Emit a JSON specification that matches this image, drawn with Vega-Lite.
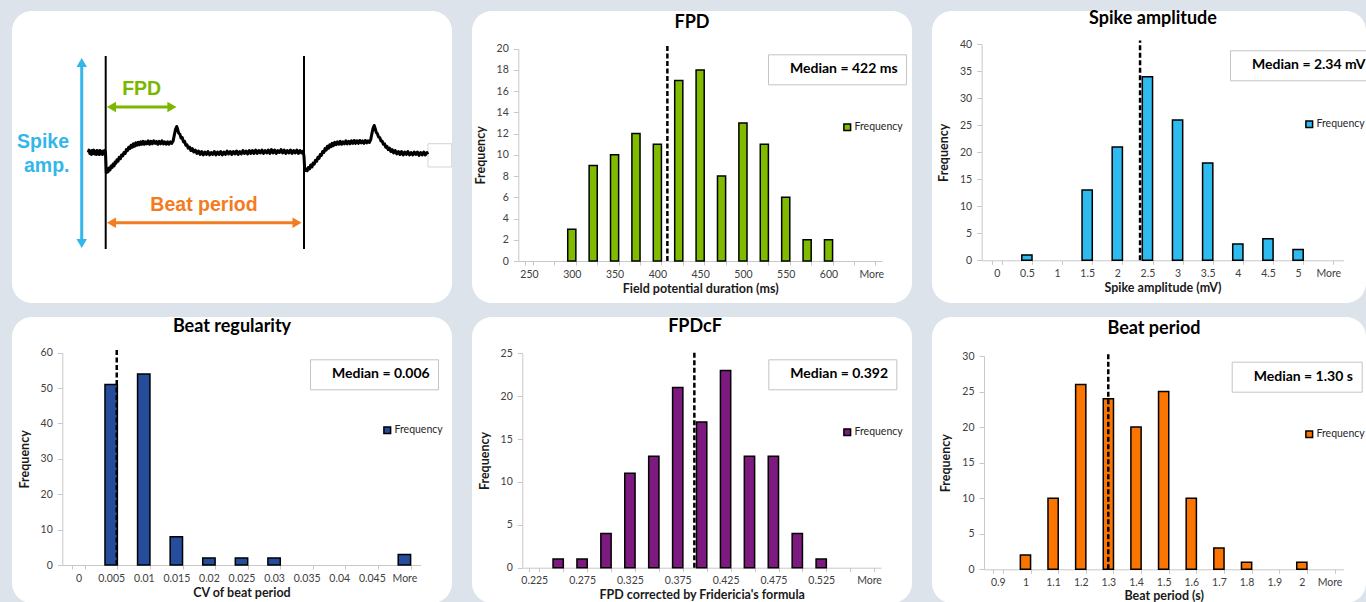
{
  "$schema": "https://vega.github.io/schema/vega-lite/v6.json",
  "background": "#dce3ea",
  "padding": {"left": 12, "top": 10, "right": 0, "bottom": 0},
  "spacing": 14,
  "resolve": {"scale": {"fill": "independent", "strokeDash": "independent", "color": "independent", "shape": "independent"}},
  "config": {
    "font": "Lato",
    "view": {"stroke": null, "fill": "white", "cornerRadius": 20},
    "title": {"font": "Lato", "fontSize": 18, "fontWeight": "bold", "color": "black", "anchor": "middle", "baseline": "alphabetic"},
    "axis": {"labelFont": "Lato", "labelFontSize": 10.5, "labelColor": "#404040", "titleFont": "Lato", "titleFontSize": 12.5, "titleFontWeight": "bold", "titleColor": "#1a1a1a", "domainColor": "#c8c8c8", "tickColor": "#c8c8c8", "grid": false, "minExtent": 0, "maxExtent": 400, "labelOverlap": false},
    "axisX": {"tickSize": 4, "labelPadding": 4, "titlePadding": 3, "labelAngle": 0, "tickBand": "extent"},
    "axisY": {"tickSize": 5, "labelPadding": 5, "titlePadding": 9, "labelOverlap": false},
    "legend": {"orient": "none", "title": null, "padding": 0, "symbolType": "square", "symbolSize": 45, "symbolStrokeColor": "black", "symbolStrokeWidth": 1.5, "labelFont": "Lato", "labelFontSize": 10.5, "labelColor": "#262626", "labelOffset": 2}
  },
  "vconcat": [
    {
      "spacing": 20,
      "resolve": {"scale": {"fill": "independent", "strokeDash": "independent", "color": "independent", "shape": "independent"}},
      "hconcat": [
        {
          "width": 440,
          "height": 292,
          "encoding": {
            "x": {"field": "t", "type": "quantitative", "scale": {"domain": [0, 1000], "range": [93.7, 292], "nice": false, "zero": false}, "axis": null},
            "y": {"field": "v", "type": "quantitative", "scale": {"domain": [-100, 100], "range": [238, 45], "nice": false, "zero": false}, "axis": null}
          },
          "layer": [
            {
              "data": {"values": [{"t": 1625, "t2": 1745, "v": 9.1, "v2": -15}]},
              "mark": {"type": "rect", "fill": "white", "stroke": "#d4d4d4", "strokeWidth": 1, "clip": true},
              "encoding": {"x2": {"field": "t2"}, "y2": {"field": "v2"}}
            },
            {
              "data": {"values": [
                {"t": -88, "v": 0}, {"t": -84, "v": 2.5}, {"t": -80, "v": -1}, {"t": -76, "v": 1.5}, {"t": -72, "v": -2}, {"t": -68, "v": 2}, {"t": -64, "v": -1}, {"t": -60, "v": 2.5}, {"t": -56, "v": -1.5}, {"t": -52, "v": 1}, {"t": -48, "v": -2}, {"t": -44, "v": 2}, {"t": -40, "v": -1.5}, {"t": -36, "v": 1.5}, {"t": -32, "v": -2}, {"t": -28, "v": 2}, {"t": -24, "v": -1.5}, {"t": -20, "v": 1}, {"t": -16, "v": -2}, {"t": -12, "v": 1.5}, {"t": -8, "v": -1}, {"t": -4, "v": 2}, {"t": -1, "v": 0},
                {"t": 0, "v": -5}, {"t": 3, "v": -21}, {"t": 8, "v": -18}, {"t": 12, "v": -20}, {"t": 17, "v": -16}, {"t": 22, "v": -18}, {"t": 27, "v": -14}, {"t": 32, "v": -15.5}, {"t": 37, "v": -12}, {"t": 42, "v": -14}, {"t": 47, "v": -10}, {"t": 52, "v": -11}, {"t": 57, "v": -7.5}, {"t": 62, "v": -9}, {"t": 68, "v": -5}, {"t": 74, "v": -6.5}, {"t": 80, "v": -2.5}, {"t": 86, "v": -3.5}, {"t": 92, "v": 0}, {"t": 98, "v": -1}, {"t": 104, "v": 3}, {"t": 110, "v": 2}, {"t": 116, "v": 5.5}, {"t": 122, "v": 4}, {"t": 128, "v": 7.5}, {"t": 134, "v": 5.5}, {"t": 140, "v": 9}, {"t": 146, "v": 6.5}, {"t": 152, "v": 10}, {"t": 158, "v": 7.5}, {"t": 164, "v": 10.5}, {"t": 170, "v": 8}, {"t": 176, "v": 11}, {"t": 182, "v": 8.5}, {"t": 188, "v": 11.5}, {"t": 194, "v": 8.5}, {"t": 200, "v": 11}, {"t": 207, "v": 9}, {"t": 214, "v": 12}, {"t": 221, "v": 8.5}, {"t": 228, "v": 11.5}, {"t": 235, "v": 9}, {"t": 242, "v": 12}, {"t": 249, "v": 9.5}, {"t": 256, "v": 11.5}, {"t": 263, "v": 8.5}, {"t": 270, "v": 11.5}, {"t": 277, "v": 9}, {"t": 284, "v": 12}, {"t": 291, "v": 9}, {"t": 298, "v": 11}, {"t": 305, "v": 8.5}, {"t": 312, "v": 11}, {"t": 319, "v": 8.5}, {"t": 326, "v": 11}, {"t": 333, "v": 9.5}, {"t": 340, "v": 12},
                {"t": 346, "v": 18}, {"t": 352, "v": 24}, {"t": 358, "v": 27}, {"t": 363, "v": 24}, {"t": 368, "v": 20}, {"t": 374, "v": 19}, {"t": 380, "v": 15}, {"t": 386, "v": 15.5}, {"t": 392, "v": 11}, {"t": 398, "v": 11.5}, {"t": 404, "v": 7.5}, {"t": 410, "v": 8}, {"t": 416, "v": 4.5}, {"t": 423, "v": 5.5}, {"t": 430, "v": 2}, {"t": 437, "v": 4}, {"t": 444, "v": 0.5}, {"t": 452, "v": 2.5}, {"t": 460, "v": -1}, {"t": 468, "v": 1.5}, {"t": 476, "v": -2}, {"t": 484, "v": 1}, {"t": 492, "v": -2.5}, {"t": 500, "v": 0.5}, {"t": 508, "v": -2}, {"t": 516, "v": 1}, {"t": 524, "v": -2.5}, {"t": 532, "v": 0}, {"t": 540, "v": -2}, {"t": 548, "v": 1}, {"t": 556, "v": -2.5}, {"t": 564, "v": 0.5}, {"t": 572, "v": -2}, {"t": 580, "v": 1}, {"t": 588, "v": -2.5}, {"t": 596, "v": 0.5}, {"t": 604, "v": -2}, {"t": 612, "v": 1.5}, {"t": 620, "v": -1.5}, {"t": 628, "v": 1}, {"t": 636, "v": -2}, {"t": 644, "v": 1}, {"t": 652, "v": -1.5}, {"t": 660, "v": 1.5}, {"t": 668, "v": -2}, {"t": 676, "v": 1}, {"t": 684, "v": -1.5}, {"t": 692, "v": 2}, {"t": 700, "v": -1}, {"t": 708, "v": 1.5}, {"t": 716, "v": -1.5}, {"t": 724, "v": 2}, {"t": 732, "v": -1}, {"t": 740, "v": 2}, {"t": 748, "v": -1}, {"t": 756, "v": 2.5}, {"t": 764, "v": -1}, {"t": 772, "v": 2}, {"t": 780, "v": -0.5}, {"t": 788, "v": 2.5}, {"t": 796, "v": -1}, {"t": 804, "v": 2}, {"t": 812, "v": -0.5}, {"t": 820, "v": 2.5}, {"t": 828, "v": -1}, {"t": 836, "v": 3}, {"t": 844, "v": -0.5}, {"t": 852, "v": 2.5}, {"t": 860, "v": -1}, {"t": 868, "v": 2}, {"t": 876, "v": 0}, {"t": 884, "v": 3}, {"t": 892, "v": -0.5}, {"t": 900, "v": 2.5}, {"t": 908, "v": -1}, {"t": 916, "v": 2}, {"t": 924, "v": -0.5}, {"t": 932, "v": 2.5}, {"t": 940, "v": -1}, {"t": 948, "v": 2}, {"t": 956, "v": -0.5}, {"t": 964, "v": 2.5}, {"t": 972, "v": -1}, {"t": 980, "v": 2}, {"t": 988, "v": -0.5}, {"t": 996, "v": 1.5},
                {"t": 1000, "v": -4}, {"t": 1004, "v": -19}, {"t": 1010, "v": -17}, {"t": 1016, "v": -19}, {"t": 1022, "v": -15.5}, {"t": 1028, "v": -17}, {"t": 1034, "v": -13}, {"t": 1040, "v": -15}, {"t": 1046, "v": -11}, {"t": 1052, "v": -12}, {"t": 1058, "v": -8}, {"t": 1064, "v": -9}, {"t": 1070, "v": -5}, {"t": 1076, "v": -6}, {"t": 1082, "v": -2}, {"t": 1088, "v": -3}, {"t": 1094, "v": 1}, {"t": 1100, "v": 0}, {"t": 1106, "v": 4}, {"t": 1112, "v": 2.5}, {"t": 1118, "v": 6.5}, {"t": 1124, "v": 4.5}, {"t": 1130, "v": 8}, {"t": 1136, "v": 6}, {"t": 1142, "v": 9.5}, {"t": 1148, "v": 7}, {"t": 1155, "v": 10.5}, {"t": 1162, "v": 8}, {"t": 1169, "v": 11}, {"t": 1176, "v": 8.5}, {"t": 1183, "v": 11.5}, {"t": 1190, "v": 8.5}, {"t": 1197, "v": 11}, {"t": 1204, "v": 9}, {"t": 1211, "v": 12}, {"t": 1218, "v": 9}, {"t": 1225, "v": 11.5}, {"t": 1232, "v": 9}, {"t": 1239, "v": 12}, {"t": 1246, "v": 9.5}, {"t": 1253, "v": 12.5}, {"t": 1260, "v": 9.5}, {"t": 1267, "v": 12}, {"t": 1274, "v": 9.5}, {"t": 1281, "v": 12.5}, {"t": 1288, "v": 10}, {"t": 1295, "v": 12}, {"t": 1302, "v": 9.5}, {"t": 1309, "v": 12.5}, {"t": 1316, "v": 10}, {"t": 1323, "v": 12}, {"t": 1330, "v": 10.5}, {"t": 1336, "v": 13},
                {"t": 1342, "v": 19}, {"t": 1348, "v": 25}, {"t": 1354, "v": 28}, {"t": 1359, "v": 25}, {"t": 1364, "v": 21}, {"t": 1370, "v": 19.5}, {"t": 1376, "v": 16}, {"t": 1382, "v": 15.5}, {"t": 1388, "v": 12}, {"t": 1394, "v": 12}, {"t": 1400, "v": 8.5}, {"t": 1406, "v": 9}, {"t": 1412, "v": 5.5}, {"t": 1418, "v": 6.5}, {"t": 1424, "v": 3}, {"t": 1431, "v": 4.5}, {"t": 1438, "v": 1}, {"t": 1445, "v": 3}, {"t": 1452, "v": -0.5}, {"t": 1460, "v": 2}, {"t": 1468, "v": -1.5}, {"t": 1476, "v": 1}, {"t": 1484, "v": -2}, {"t": 1492, "v": 1}, {"t": 1500, "v": -2.5}, {"t": 1508, "v": 0.5}, {"t": 1516, "v": -2}, {"t": 1524, "v": 1}, {"t": 1532, "v": -2.5}, {"t": 1540, "v": 0}, {"t": 1548, "v": -2.5}, {"t": 1556, "v": 0.5}, {"t": 1564, "v": -2}, {"t": 1572, "v": 0.5}, {"t": 1580, "v": -3}, {"t": 1588, "v": 0}, {"t": 1596, "v": -2.5}, {"t": 1604, "v": 0.5}, {"t": 1612, "v": -2.5}, {"t": 1620, "v": 0}, {"t": 1624, "v": -2}
              ]},
              "mark": {"type": "line", "color": "black", "strokeWidth": 3, "strokeJoin": "round"},
              "encoding": {}
            },
            {
              "data": {"values": [{"t": 0, "v": -100, "v2": 100}, {"t": 1000, "v": -100, "v2": 100}]},
              "mark": {"type": "rule", "color": "black", "strokeWidth": 2},
              "encoding": {"y2": {"field": "v2"}}
            },
            {
              "data": {"values": [{"kind": "spike", "t": -121, "v": -93, "v2": 92}]},
              "mark": {"type": "rule", "strokeWidth": 3},
              "encoding": {
                "y2": {"field": "v2"},
                "color": {"field": "kind", "type": "nominal", "scale": {"domain": ["spike", "fpd", "beat"], "range": ["#33b6ea", "#7ab800", "#f47b20"]}, "legend": null}
              }
            },
            {
              "data": {"values": [{"kind": "fpd", "t": 29, "t2": 334, "v": 47.1}, {"kind": "beat", "t": 29, "t2": 965, "v": -72.8}]},
              "mark": {"type": "rule", "strokeWidth": 3},
              "encoding": {
                "x2": {"field": "t2"},
                "color": {"field": "kind", "type": "nominal", "scale": {"domain": ["spike", "fpd", "beat"], "range": ["#33b6ea", "#7ab800", "#f47b20"]}, "legend": null}
              }
            },
            {
              "data": {"values": [
                {"kind": "spike", "dir": "up", "t": -121, "v": 93.3},
                {"kind": "spike", "dir": "down", "t": -121, "v": -94.3},
                {"kind": "fpd", "dir": "left", "t": 29, "v": 47.1},
                {"kind": "fpd", "dir": "right", "t": 334, "v": 47.1},
                {"kind": "beat", "dir": "left", "t": 29, "v": -72.8},
                {"kind": "beat", "dir": "right", "t": 965, "v": -72.8}
              ]},
              "mark": {"type": "point", "filled": true, "opacity": 1, "size": 110},
              "encoding": {
                "shape": {"field": "dir", "type": "nominal", "scale": {"domain": ["up", "down", "left", "right"], "range": ["triangle-up", "triangle-down", "triangle-left", "triangle-right"]}, "legend": null},
                "color": {"field": "kind", "type": "nominal", "scale": {"domain": ["spike", "fpd", "beat"], "range": ["#33b6ea", "#7ab800", "#f47b20"]}, "legend": null}
              }
            },
            {
              "data": {"values": [
                {"t": -316, "v": 11.2, "label": "Spike", "kind": "spike"},
                {"t": -297.5, "v": -14, "label": "amp.", "kind": "spike"},
                {"t": 181.5, "v": 65.8, "label": "FPD", "kind": "fpd"},
                {"t": 495.7, "v": -54.4, "label": "Beat period", "kind": "beat"}
              ]},
              "mark": {"type": "text", "font": "Liberation Sans", "fontWeight": "bold", "fontSize": 19.5, "align": "center", "baseline": "middle"},
              "encoding": {
                "text": {"field": "label"},
                "color": {"field": "kind", "type": "nominal", "scale": {"domain": ["spike", "fpd", "beat"], "range": ["#33b6ea", "#7ab800", "#f47b20"]}, "legend": null}
              }
            }
          ]
        },
        {
          "width": 440,
          "height": 292,
          "title": {"text": "FPD", "offset": -21},
          "layer": [
            {
              "data": {"values": [
                {"bin": "300", "count": 3}, {"bin": "325", "count": 9}, {"bin": "350", "count": 10}, {"bin": "375", "count": 12}, {"bin": "400", "count": 11}, {"bin": "425", "count": 17}, {"bin": "450", "count": 18}, {"bin": "475", "count": 8}, {"bin": "500", "count": 13}, {"bin": "525", "count": 11}, {"bin": "550", "count": 6}, {"bin": "575", "count": 2}, {"bin": "600", "count": 2}
              ]},
              "mark": {"type": "bar", "stroke": "black", "strokeWidth": 1.5},
              "encoding": {
                "x": {"field": "bin", "type": "nominal", "scale": {"domain": ["250", "275", "300", "325", "350", "375", "400", "425", "450", "475", "500", "525", "550", "575", "600", "625", "More"], "range": [46.3, 410], "paddingInner": 0.62, "paddingOuter": 0.31},
                  "axis": {"orient": "bottom", "offset": -42, "title": "Field potential duration (ms)", "labelExpr": "indexof(['275','325','375','425','475','525','575','625'], datum.value) >= 0 ? '' : datum.label"}},
                "y": {"field": "count", "type": "quantitative", "scale": {"domain": [0, 20], "range": [250, 37.7], "nice": false},
                  "axis": {"orient": "left", "offset": -46.3, "title": "Frequency", "values": [0, 2, 4, 6, 8, 10, 12, 14, 16, 18, 20]}},
                "fill": {"datum": "Frequency", "scale": {"range": ["#80bb00"]}, "legend": {"legendX": 370, "legendY": 111}}
              }
            },
            {
              "data": {"values": [{"label": "Median = 422 ms"}]},
              "mark": {"type": "rule", "color": "black", "strokeWidth": 2.5},
              "encoding": {
                "x": {"datum": "425", "bandPosition": -0.9,
                  "axis": {"orient": "bottom", "offset": -42, "title": "Field potential duration (ms)", "labelExpr": "indexof(['275','325','375','425','475','525','575','625'], datum.value) >= 0 ? '' : datum.label"}},
                "y": {"datum": 0,
                  "axis": {"orient": "left", "offset": -46.3, "title": "Frequency", "values": [0, 2, 4, 6, 8, 10, 12, 14, 16, 18, 20]}},
                "y2": {"datum": 20.3},
                "strokeDash": {"field": "label", "type": "nominal", "scale": {"range": [[5, 2.5]]},
                  "legend": {"legendX": 296, "legendY": 43.3, "padding": 8, "strokeColor": "#c4c4c4", "fillColor": "white", "symbolSize": 0, "symbolStrokeWidth": 0, "symbolOpacity": 0, "labelOffset": 0, "labelFontSize": 14, "labelFontWeight": "bold", "labelColor": "black", "labelLimit": 0, "labelExpr": "'\u00a0\u00a0\u00a0' + datum.label + '\u00a0\u00a0\u00a0'"}}
              }
            }
          ]
        },
        {
          "width": 434,
          "height": 292,
          "title": {"text": "Spike amplitude", "offset": -17, "dx": 4},
          "layer": [
            {
              "data": {"values": [
                {"bin": "0.5", "count": 1}, {"bin": "1.5", "count": 13}, {"bin": "2", "count": 21}, {"bin": "2.5", "count": 34}, {"bin": "3", "count": 26}, {"bin": "3.5", "count": 18}, {"bin": "4", "count": 3}, {"bin": "4.5", "count": 4}, {"bin": "5", "count": 2}
              ]},
              "mark": {"type": "bar", "stroke": "black", "strokeWidth": 1.5},
              "encoding": {
                "x": {"field": "bin", "type": "nominal", "scale": {"domain": ["0", "0.5", "1", "1.5", "2", "2.5", "3", "3.5", "4", "4.5", "5", "More"], "range": [49.7, 411.3], "paddingInner": 0.66, "paddingOuter": 0.33},
                  "axis": {"orient": "bottom", "offset": -42.7, "title": "Spike amplitude (mV)"}},
                "y": {"field": "count", "type": "quantitative", "scale": {"domain": [0, 40], "range": [249.3, 33.3], "nice": false},
                  "axis": {"orient": "left", "offset": -49.7, "title": "Frequency", "values": [0, 5, 10, 15, 20, 25, 30, 35, 40]}},
                "fill": {"datum": "Frequency", "scale": {"range": ["#2ebbef"]}, "legend": {"legendX": 372, "legendY": 108}}
              }
            },
            {
              "data": {"values": [{"label": "Median = 2.34 mV"}]},
              "mark": {"type": "rule", "color": "black", "strokeWidth": 2.5},
              "encoding": {
                "x": {"datum": "2.5", "bandPosition": -0.22,
                  "axis": {"orient": "bottom", "offset": -42.7, "title": "Spike amplitude (mV)"}},
                "y": {"datum": 0,
                  "axis": {"orient": "left", "offset": -49.7, "title": "Frequency", "values": [0, 5, 10, 15, 20, 25, 30, 35, 40]}},
                "y2": {"datum": 40.7},
                "strokeDash": {"field": "label", "type": "nominal", "scale": {"range": [[5, 2.5]]},
                  "legend": {"legendX": 298, "legendY": 39.3, "padding": 8, "strokeColor": "#c4c4c4", "fillColor": "white", "symbolSize": 0, "symbolStrokeWidth": 0, "symbolOpacity": 0, "labelOffset": 0, "labelFontSize": 14, "labelFontWeight": "bold", "labelColor": "black", "labelLimit": 0, "labelExpr": "'\u00a0\u00a0' + datum.label + '\u00a0\u00a0'"}}
              }
            }
          ]
        }
      ]
    },
    {
      "spacing": 20,
      "resolve": {"scale": {"fill": "independent", "strokeDash": "independent"}},
      "hconcat": [
        {
          "width": 440,
          "height": 286,
          "title": {"text": "Beat regularity", "offset": -19},
          "layer": [
            {
              "data": {"values": [
                {"bin": "0.005", "count": 51}, {"bin": "0.01", "count": 54}, {"bin": "0.015", "count": 8}, {"bin": "0.02", "count": 2}, {"bin": "0.025", "count": 2}, {"bin": "0.03", "count": 2}, {"bin": "More", "count": 3}
              ]},
              "mark": {"type": "bar", "stroke": "black", "strokeWidth": 1.5},
              "encoding": {
                "x": {"field": "bin", "type": "nominal", "scale": {"domain": ["0", "0.005", "0.01", "0.015", "0.02", "0.025", "0.03", "0.035", "0.04", "0.045", "More"], "range": [50.3, 408.7], "paddingInner": 0.62, "paddingOuter": 0.31},
                  "axis": {"orient": "bottom", "offset": -38, "title": "CV of beat period"}},
                "y": {"field": "count", "type": "quantitative", "scale": {"domain": [0, 60], "range": [248, 35.7], "nice": false},
                  "axis": {"orient": "left", "offset": -50.3, "title": "Frequency", "values": [0, 10, 20, 30, 40, 50, 60]}},
                "fill": {"datum": "Frequency", "scale": {"range": ["#264d9c"]}, "legend": {"legendX": 370, "legendY": 108}}
              }
            },
            {
              "data": {"values": [{"label": "Median = 0.006"}]},
              "mark": {"type": "rule", "color": "black", "strokeWidth": 2.5},
              "encoding": {
                "x": {"datum": "0.005", "bandPosition": 0.95,
                  "axis": {"orient": "bottom", "offset": -38, "title": "CV of beat period"}},
                "y": {"datum": 0,
                  "axis": {"orient": "left", "offset": -50.3, "title": "Frequency", "values": [0, 10, 20, 30, 40, 50, 60]}},
                "y2": {"datum": 61},
                "strokeDash": {"field": "label", "type": "nominal", "scale": {"range": [[5, 2.5]]},
                  "legend": {"legendX": 298, "legendY": 42.3, "padding": 8, "strokeColor": "#c4c4c4", "fillColor": "white", "symbolSize": 0, "symbolStrokeWidth": 0, "symbolOpacity": 0, "labelOffset": 0, "labelFontSize": 14, "labelFontWeight": "bold", "labelColor": "black", "labelLimit": 0, "labelExpr": "'\u00a0\u00a0\u00a0\u00a0' + datum.label + '\u00a0\u00a0\u00a0\u00a0'"}}
              }
            }
          ]
        },
        {
          "width": 440,
          "height": 286,
          "title": {"text": "FPDcF", "offset": -19, "dx": 3},
          "layer": [
            {
              "data": {"values": [
                {"bin": "0.25", "count": 1}, {"bin": "0.275", "count": 1}, {"bin": "0.3", "count": 4}, {"bin": "0.325", "count": 11}, {"bin": "0.35", "count": 13}, {"bin": "0.375", "count": 21}, {"bin": "0.4", "count": 17}, {"bin": "0.425", "count": 23}, {"bin": "0.45", "count": 13}, {"bin": "0.475", "count": 13}, {"bin": "0.5", "count": 4}, {"bin": "0.525", "count": 1}
              ]},
              "mark": {"type": "bar", "stroke": "black", "strokeWidth": 1.5},
              "encoding": {
                "x": {"field": "bin", "type": "nominal", "scale": {"domain": ["0.225", "0.25", "0.275", "0.3", "0.325", "0.35", "0.375", "0.4", "0.425", "0.45", "0.475", "0.5", "0.525", "0.55", "More"], "range": [50.3, 409], "paddingInner": 0.57, "paddingOuter": 0.285},
                  "axis": {"orient": "bottom", "offset": -35.3, "title": "FPD corrected by Fridericia's formula", "titlePadding": 2, "labelExpr": "indexof(['0.25','0.3','0.35','0.4','0.45','0.5','0.55'], datum.value) >= 0 ? '' : datum.label"}},
                "y": {"field": "count", "type": "quantitative", "scale": {"domain": [0, 25], "range": [250.7, 36.3], "nice": false},
                  "axis": {"orient": "left", "offset": -50.3, "title": "Frequency", "values": [0, 5, 10, 15, 20, 25]}},
                "fill": {"datum": "Frequency", "scale": {"range": ["#7d1a7f"]}, "legend": {"legendX": 370, "legendY": 110}}
              }
            },
            {
              "data": {"values": [{"label": "Median = 0.392"}]},
              "mark": {"type": "rule", "color": "black", "strokeWidth": 2.5},
              "encoding": {
                "x": {"datum": "0.4", "bandPosition": -0.21,
                  "axis": {"orient": "bottom", "offset": -35.3, "title": "FPD corrected by Fridericia's formula", "titlePadding": 2, "labelExpr": "indexof(['0.25','0.3','0.35','0.4','0.45','0.5','0.55'], datum.value) >= 0 ? '' : datum.label"}},
                "y": {"datum": 0,
                  "axis": {"orient": "left", "offset": -50.3, "title": "Frequency", "values": [0, 5, 10, 15, 20, 25]}},
                "y2": {"datum": 25.35},
                "strokeDash": {"field": "label", "type": "nominal", "scale": {"range": [[5, 2.5]]},
                  "legend": {"legendX": 296.3, "legendY": 42.3, "padding": 8, "strokeColor": "#c4c4c4", "fillColor": "white", "symbolSize": 0, "symbolStrokeWidth": 0, "symbolOpacity": 0, "labelOffset": 0, "labelFontSize": 14, "labelFontWeight": "bold", "labelColor": "black", "labelLimit": 0, "labelExpr": "'\u00a0\u00a0\u00a0\u00a0' + datum.label + '\u00a0\u00a0\u00a0\u00a0'"}}
              }
            }
          ]
        },
        {
          "width": 434,
          "height": 286,
          "title": {"text": "Beat period", "offset": -21.3, "dx": 5},
          "layer": [
            {
              "data": {"values": [
                {"bin": "1", "count": 2}, {"bin": "1.1", "count": 10}, {"bin": "1.2", "count": 26}, {"bin": "1.3", "count": 24}, {"bin": "1.4", "count": 20}, {"bin": "1.5", "count": 25}, {"bin": "1.6", "count": 10}, {"bin": "1.7", "count": 3}, {"bin": "1.8", "count": 1}, {"bin": "2", "count": 1}
              ]},
              "mark": {"type": "bar", "stroke": "black", "strokeWidth": 1.5},
              "encoding": {
                "x": {"field": "bin", "type": "nominal", "scale": {"domain": ["0.9", "1", "1.1", "1.2", "1.3", "1.4", "1.5", "1.6", "1.7", "1.8", "1.9", "2", "More"], "range": [52, 411.3], "paddingInner": 0.63, "paddingOuter": 0.315},
                  "axis": {"orient": "bottom", "offset": -33.7, "title": "Beat period (s)", "titlePadding": 2}},
                "y": {"field": "count", "type": "quantitative", "scale": {"domain": [0, 30], "range": [252.3, 39], "nice": false},
                  "axis": {"orient": "left", "offset": -52, "title": "Frequency", "values": [0, 5, 10, 15, 20, 25, 30]}},
                "fill": {"datum": "Frequency", "scale": {"range": ["#fb7500"]}, "legend": {"legendX": 372, "legendY": 112}}
              }
            },
            {
              "data": {"values": [{"label": "Median = 1.30 s"}]},
              "mark": {"type": "rule", "color": "black", "strokeWidth": 2.5},
              "encoding": {
                "x": {"datum": "1.3", "bandPosition": 0.49,
                  "axis": {"orient": "bottom", "offset": -33.7, "title": "Beat period (s)", "titlePadding": 2}},
                "y": {"datum": 0,
                  "axis": {"orient": "left", "offset": -52, "title": "Frequency", "values": [0, 5, 10, 15, 20, 25, 30]}},
                "y2": {"datum": 30.5},
                "strokeDash": {"field": "label", "type": "nominal", "scale": {"range": [[5, 2.5]]},
                  "legend": {"legendX": 299.7, "legendY": 44.7, "padding": 8, "strokeColor": "#c4c4c4", "fillColor": "white", "symbolSize": 0, "symbolStrokeWidth": 0, "symbolOpacity": 0, "labelOffset": 0, "labelFontSize": 14, "labelFontWeight": "bold", "labelColor": "black", "labelLimit": 0, "labelExpr": "'\u00a0\u00a0\u00a0' + datum.label + '\u00a0\u00a0\u00a0'"}}
              }
            }
          ]
        }
      ]
    }
  ]
}
